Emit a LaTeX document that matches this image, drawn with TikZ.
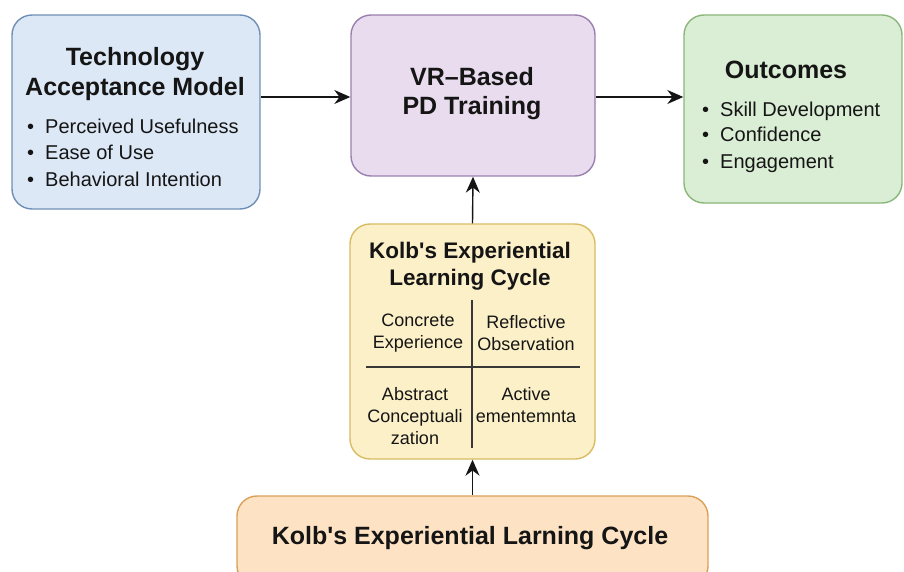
\documentclass[tikz,border=0pt]{standalone}
\usepackage{fontspec}
\setmainfont{Liberation Sans}
\usetikzlibrary{arrows.meta}
\definecolor{tamfill}{HTML}{DDE8F6}
\definecolor{tamline}{HTML}{6F8FB8}
\definecolor{vrfill}{HTML}{E8DCEE}
\definecolor{vrline}{HTML}{9A7FB0}
\definecolor{outfill}{HTML}{DAEDD5}
\definecolor{outline}{HTML}{8AB67A}
\definecolor{kolbfill}{HTML}{FCF0C9}
\definecolor{kolbline}{HTML}{D8BC62}
\definecolor{basefill}{HTML}{FDE3C4}
\definecolor{baseline}{HTML}{D9A05A}
\definecolor{ink}{HTML}{151515}
\tikzset{
  box/.style={draw, rounded corners=20pt, line width=1.4pt, inner sep=0pt},
  ttl/.style={text=ink, align=center, font=\fontsize{25}{30}\selectfont\bfseries},
  itm/.style={text=ink, anchor=base west, inner sep=0pt, font=\fontsize{20}{24}\selectfont},
  quad/.style={text=ink, align=center, font=\fontsize{18}{22}\selectfont},
  arr/.style={-{Stealth[length=16pt,width=14pt]}, line width=1.4pt, draw=ink}
}
\begin{document}
\begin{tikzpicture}[x=1pt,y=-1pt]
  \useasboundingbox (0,0) rectangle (904,572);
  % boxes
  \node[box, fill=tamfill, draw=tamline, minimum width=248pt, minimum height=194pt] (tam) at (136,112) {};
  \node[box, fill=vrfill, draw=vrline, minimum width=244pt, minimum height=161pt] (vr) at (473,95.5) {};
  \node[box, fill=outfill, draw=outline, minimum width=218pt, minimum height=188pt] (out) at (793,109) {};
  \node[box, fill=kolbfill, draw=kolbline, minimum width=245pt, minimum height=235pt] (kolb) at (472.5,341.5) {};
  \node[box, fill=basefill, draw=baseline, minimum width=471pt, minimum height=90pt] (base) at (472.5,541) {};
  % titles
  \node[ttl] (tamttl) at (135,74) {Technology\\Acceptance Model};
  \node[ttl, font=\fontsize{25}{29}\selectfont\bfseries] (vrttl) at (472,94) {VR--Based\\PD Training};
  \node[ttl] (outttl) at (786,70) {Outcomes};
  \node[ttl, font=\fontsize{22.5}{27}\selectfont\bfseries] (kolbttl) at (470,266) {Kolb\textquotesingle s Experiential\\Learning Cycle};
  \node[ttl] (basettl) at (470,538) {Kolb\textquotesingle s Experiential Larning Cycle};
  % bullet lists
  \foreach \y/\t [count=\i] in {134/Perceived Usefulness, 160/Ease of Use, 186/Behavioral Intention}
    \node[itm] (tamitem\i) at (27,\y) {\textbullet\hspace{11pt}\t};
  \foreach \y/\t [count=\i] in {117/Skill Development, 142/Confidence, 168/Engagement}
    \node[itm] (outitem\i) at (702,\y) {\textbullet\hspace{11pt}\t};
  % quadrants
  \draw[line width=1.4pt, draw=ink!85] (472,300) -- (472,448);
  \draw[line width=1.4pt, draw=ink!85] (366,367) -- (580,367);
  \node[quad] (ce) at (418,333) {Concrete\\Experience};
  \node[quad] (ro) at (526,333) {Reflective\\Observation};
  \node[quad] (ac) at (415,416) {Abstract\\Conceptuali\\zation};
  \node[quad] (ae) at (526,405) {Active\\ementemnta};
  % arrows
  \draw[arr] (tam.east |- 0,97) -- (vr.west |- 0,97);
  \draw[arr] (vr.east |- 0,97) -- (out.west |- 0,97);
  \draw[arr] (kolb.north) -- (vr.south);
  \draw[arr] (base.north) -- (kolb.south);
\end{tikzpicture}
\end{document}
